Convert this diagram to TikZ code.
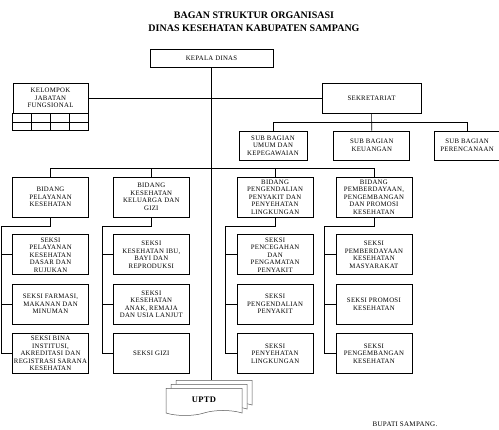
\documentclass[tikz,border=0pt]{standalone}
\usepackage{fontspec}
\setmainfont{Liberation Serif}
\newfontfamily\boxfont[LetterSpace=4]{Liberation Serif}
\usetikzlibrary{shapes, positioning}

\begin{document}
\begin{tikzpicture}[
    x=1pt, y=-1pt,
    node distance=8.5pt,
    unit/.style={rectangle, draw, line width=0.8pt, minimum width=76pt, minimum height=40pt, inner sep=0.5pt, align=center, font=\boxfont\fontsize{6.8}{7.5}\selectfont},
    subunit/.style={unit, minimum height=29pt},
    doc/.style={tape, draw=black!65, fill=white, tape bend top=none, tape bend bottom=in and out, tape bend height=5pt, minimum width=76pt, minimum height=27pt, line width=0.5pt},
    link/.style={line width=0.7pt}
]
\useasboundingbox (0,0) rectangle (499,430);

% Judul
\node[align=center, font=\bfseries\fontsize{10}{13}\selectfont] (judul) at (254,21.5) {BAGAN STRUKTUR ORGANISASI\\DINAS KESEHATAN KABUPATEN SAMPANG};

% Pimpinan
\node[unit, minimum width=123pt, minimum height=18pt] (kepala) at (211.5,58) {KEPALA DINAS};
\node[unit, minimum width=75pt, minimum height=30pt] (kelompok) at (50.5,98) {KELOMPOK\\JABATAN\\FUNGSIONAL};
\node[unit, minimum width=99pt, minimum height=30pt] (sekretariat) at (371.5,98) {SEKRETARIAT};

% Sub Bagian
\node[subunit, minimum width=68pt] (umum) at (273,145.5) {SUB BAGIAN\\UMUM DAN\\KEPEGAWAIAN};
\node[subunit, right=26pt of umum] (keuangan) {SUB BAGIAN\\KEUANGAN};
\node[subunit, minimum width=65pt, right=24pt of keuangan] (perencanaan) {SUB BAGIAN\\PERENCANAAN};

% Bidang
\node[unit] (pelayanan) at (50.5,197) {BIDANG\\PELAYANAN\\KESEHATAN};
\node[unit, right=24pt of pelayanan] (keluarga) {BIDANG\\KESEHATAN\\KELUARGA DAN\\GIZI};
\node[unit, right=47pt of keluarga] (pengendalian) {BIDANG\\PENGENDALIAN\\PENYAKIT DAN\\PENYEHATAN\\LINGKUNGAN};
\node[unit, right=22pt of pengendalian] (pemberdayaan) {BIDANG\\PEMBERDAYAAN,\\PENGEMBANGAN\\DAN PROMOSI\\KESEHATAN};

% Seksi
\node[unit, below=17pt of pelayanan] (dasar) {SEKSI\\PELAYANAN\\KESEHATAN\\DASAR DAN\\RUJUKAN};
\node[unit, below=of dasar] (farmasi) {SEKSI FARMASI,\\MAKANAN DAN\\MINUMAN};
\node[unit, below=of farmasi] (bina) {SEKSI BINA\\INSTITUSI,\\AKREDITASI DAN\\REGISTRASI SARANA\\KESEHATAN};

\node[unit, below=17pt of keluarga] (ibu) {SEKSI\\KESEHATAN IBU,\\BAYI DAN\\REPRODUKSI};
\node[unit, below=of ibu] (anak) {SEKSI\\KESEHATAN\\ANAK, REMAJA\\DAN USIA LANJUT};
\node[unit, below=of anak] (gizi) {SEKSI GIZI};

\node[unit, below=17pt of pengendalian] (pencegahan) {SEKSI\\PENCEGAHAN\\DAN\\PENGAMATAN\\PENYAKIT};
\node[unit, below=of pencegahan] (penyakit) {SEKSI\\PENGENDALIAN\\PENYAKIT};
\node[unit, below=of penyakit] (lingkungan) {SEKSI\\PENYEHATAN\\LINGKUNGAN};

\node[unit, below=17pt of pemberdayaan] (masyarakat) {SEKSI\\PEMBERDAYAAN\\KESEHATAN\\MASYARAKAT};
\node[unit, below=of masyarakat] (promosi) {SEKSI PROMOSI\\KESEHATAN};
\node[unit, below=of promosi] (pengembangan) {SEKSI\\PENGEMBANGAN\\KESEHATAN};

% UPTD
\node[doc] (uptd3) at (214,391.5) {};
\node[doc] (uptd2) at (209,395.5) {};
\node[doc, font=\boxfont\bfseries\fontsize{8.5}{10}\selectfont] (uptd) at (204,399.5) {UPTD};

\node[font=\boxfont\fontsize{7}{8}\selectfont] (bupati) at (405,424) {BUPATI SAMPANG.};

% Garis
\draw[link] (kepala) -- (kepala |- uptd3.north);
\draw[link] (kelompok) -- (sekretariat);
\draw[link] (kelompok.south west) rectangle ([yshift=-17pt]kelompok.south east);
\draw[link] ([yshift=-8.5pt]kelompok.south west) -- ([yshift=-8.5pt]kelompok.south east);
\foreach \dx in {18.5,38,56.5}
    \draw[link] ([xshift=\dx pt]kelompok.south west) -- ++(0,17);

\draw[link] (sekretariat) -- (keuangan);
\draw[link] (umum.north) -- ++(0,-8) -| (perencanaan.north);

\draw[link] (pelayanan.north) -- ++(0,-8) -| (pemberdayaan.north);
\draw[link] (keluarga.north) -- ++(0,-8);
\draw[link] (pengendalian.north) -- ++(0,-8);

\foreach \b/\s in {pelayanan/bina, keluarga/gizi, pengendalian/lingkungan, pemberdayaan/pengembangan}
    \draw[link] (\b.south) -- ++(0,8.5) -| ([xshift=-11pt]\s.west) -- (\s.west);
\foreach \s in {dasar, farmasi, ibu, anak, pencegahan, penyakit, masyarakat, promosi}
    \draw[link] ([xshift=-11pt]\s.west) -- (\s.west);

\end{tikzpicture}
\end{document}
